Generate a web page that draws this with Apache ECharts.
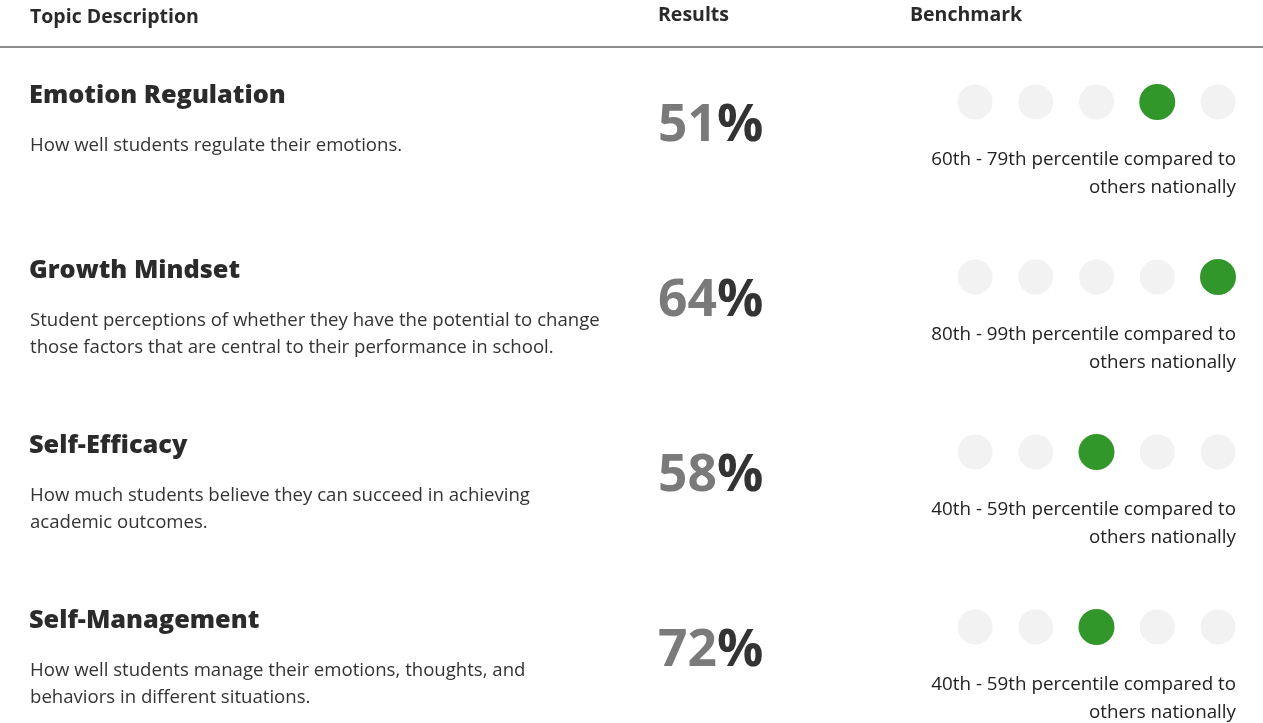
<!DOCTYPE html>
<html><head><meta charset="utf-8">
<script src="https://cdn.jsdelivr.net/npm/echarts@6/dist/echarts.min.js"></script>
<style>html,body{margin:0;padding:0;background:#fff}#c{width:1263px;height:723px}</style>
</head><body><div id="c"></div>
<script>
const headers = ['Topic Description', 'Results', 'Benchmark'];
const topics = ['Emotion Regulation', 'Growth Mindset', 'Self-Efficacy', 'Self-Management'];
const descriptions = [
  ['How well students regulate their emotions.'],
  ['Student perceptions of whether they have the potential to change', 'those factors that are central to their performance in school.'],
  ['How much students believe they can succeed in achieving', 'academic outcomes.'],
  ['How well students manage their emotions, thoughts, and', 'behaviors in different situations.']
];
const results = [51, 64, 58, 72];
const benchmarkLevel = [3, 4, 2, 2]; // index of highlighted dot (0..4)
const benchmarkText = [
  '60th - 79th percentile compared to',
  '80th - 99th percentile compared to',
  '40th - 59th percentile compared to',
  '40th - 59th percentile compared to'
];
const benchmarkText2 = 'others nationally';
const dotSlots = [0, 1, 2, 3, 4];

const FONT = '"Open Sans", sans-serif';
const chart = echarts.init(document.getElementById('c'), null, {renderer: 'canvas'});

const grayDots = [], greenDots = [];
topics.forEach((t, r) => {
  dotSlots.forEach(s => {
    if (s === benchmarkLevel[r]) greenDots.push([s, r]); else grayDots.push([s, r]);
  });
});

const ROW0 = 102, ROWSTEP = 175;
function txt(x, y, text, font, fill, align) {
  return {type: 'text', x: x, y: y, silent: true,
    style: {text: text, font: font, fill: fill, align: align || 'left', verticalAlign: 'middle'}};
}
const graphics = [];
graphics.push(txt(30, 17, headers[0], 'bold 19.5px ' + FONT, '#2a2a2a'));
graphics.push(txt(658, 15, headers[1], 'bold 19.5px ' + FONT, '#2a2a2a'));
graphics.push(txt(910, 15, headers[2], 'bold 19.5px ' + FONT, '#2a2a2a'));
graphics.push({type: 'line', silent: true, shape: {x1: 0, y1: 47, x2: 1263, y2: 47}, style: {stroke: '#666', lineWidth: 1.5}});

topics.forEach((t, r) => {
  const base = ROW0 + r * ROWSTEP;
  graphics.push(txt(29, base - 6, t, '800 25.3px ' + FONT, '#2b2b2b'));
  descriptions[r].forEach((line, k) => {
    graphics.push(txt(30, base + 44 + k * 27, line, '18.6px ' + FONT, '#333'));
  });
  graphics.push({type: 'text', x: 658, y: base + 24, silent: true,
    style: {text: '{n|' + results[r] + '}{p|%}', font: '700 51.5px ' + FONT, verticalAlign: 'middle',
      rich: {n: {font: '700 51.5px ' + FONT, fill: '#7a7a7a'}, p: {font: '700 51.5px ' + FONT, fill: '#333'}}}});
  graphics.push(txt(1236, base + 58, benchmarkText[r], '18.8px ' + FONT, '#222', 'right'));
  graphics.push(txt(1236, base + 86, benchmarkText2, '18.8px ' + FONT, '#222', 'right'));
});

chart.setOption({
  animation: false,
  backgroundColor: '#fff',
  grid: {left: 975, right: 1263 - 1218, top: ROW0, bottom: 723 - (ROW0 + 3 * ROWSTEP)},
  xAxis: {type: 'value', min: 0, max: 4, show: false},
  yAxis: {type: 'value', min: 0, max: 3, inverse: true, show: false},
  series: [
    {type: 'scatter', data: grayDots, symbolSize: 35, itemStyle: {color: '#f2f2f2', opacity: 1}, z: 2, silent: true},
    {type: 'scatter', data: greenDots, symbolSize: 36, itemStyle: {color: '#32972a', opacity: 1}, z: 3, silent: true}
  ],
  graphic: graphics
});
</script></body></html>
